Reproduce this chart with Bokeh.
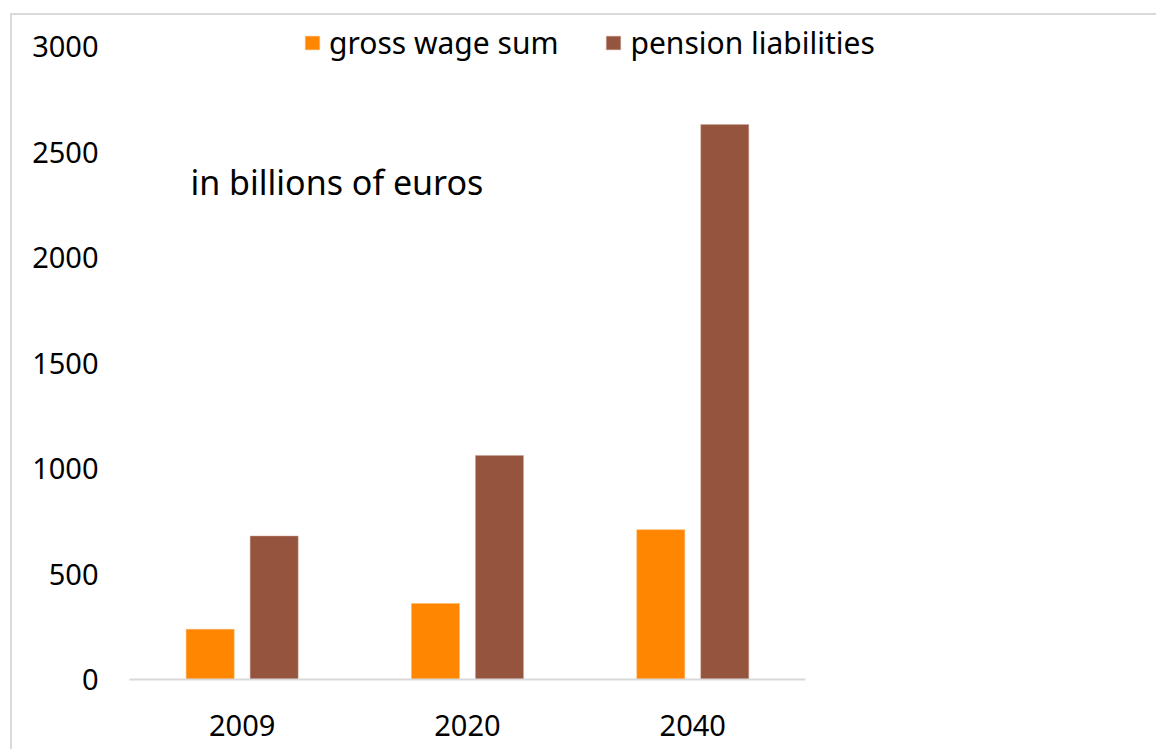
from bokeh.plotting import figure
from bokeh.models import (Range1d, Label, Legend, LegendItem,
                          ColumnDataSource, FixedTicker)
from bokeh.embed import file_html
from bokeh.resources import INLINE

years = ["2009", "2020", "2040"]
gross_wage_sum = [238, 360, 710]
pension_liabilities = [680, 1062, 2630]
y_ticks = [0, 500, 1000, 1500, 2000, 2500, 3000]

FONT = "Noto Sans"
centers = [i + 0.5 for i in range(len(years))]
OFF = 0.142
src = ColumnDataSource(dict(
    xg=[c - OFF for c in centers], xp=[c + OFF for c in centers],
    gross=gross_wage_sum, pension=pension_liabilities))

p = figure(width=1146, height=736,
           x_range=Range1d(0, 4.567), y_range=Range1d(0, 3147),
           output_backend="svg", toolbar_location=None,
           min_border_left=117, min_border_right=0, min_border_top=0,
           min_border_bottom=72,
           styles={"margin-left": "10px", "margin-top": "13px",
                   "border-left": "2px solid #D9D9D9",
                   "border-top": "2px solid #D9D9D9"})
p.outline_line_color = None
p.grid.visible = False
p.background_fill_color = "white"
p.border_fill_color = "white"

r1 = p.vbar(x="xg", top="gross", width=0.213, source=src,
            color="#FF8600", line_color="#FFB366", line_width=0.5)
r2 = p.vbar(x="xp", top="pension", width=0.213, source=src,
            color="#95543E", line_color="#C9A090", line_width=0.5)

# y axis
ya = p.yaxis[0]
ya.ticker = FixedTicker(ticks=y_ticks)
ya.axis_line_color = None
ya.major_tick_line_color = None
ya.minor_tick_line_color = None
ya.major_label_standoff = 25
ya.major_label_text_font = FONT
ya.major_label_text_font_size = "29px"
ya.major_label_text_color = "#000000"

# x axis
xa = p.xaxis[0]
xa.ticker = FixedTicker(ticks=centers)
xa.major_label_overrides = {c: y for c, y in zip(centers, years)}
xa.bounds = (0, len(years))
xa.axis_line_color = "#D9D9D9"
xa.axis_line_width = 2
xa.major_tick_line_color = None
xa.minor_tick_line_color = None
xa.major_label_standoff = 29
xa.major_label_text_font = FONT
xa.major_label_text_font_size = "29px"
xa.major_label_text_color = "#000000"

legend = Legend(items=[LegendItem(label="gross wage sum", renderers=[r1]),
                       LegendItem(label="pension liabilities", renderers=[r2])],
                orientation="horizontal", location=(174, 616),
                glyph_width=18, glyph_height=17, label_standoff=8, spacing=46,
                padding=0, margin=0, border_line_color=None,
                background_fill_alpha=0, label_text_font=FONT,
                label_text_font_size="30px", label_text_color="#000000",
                label_height=30)
p.add_layout(legend, "center")

p.add_layout(Label(x=61, y=498, x_units="screen", y_units="screen",
                   text="in billions of euros", text_font=FONT,
                   text_font_size="34px", text_color="#000000",
                   text_baseline="alphabetic"))

open("out.html", "w").write(file_html(p, INLINE))
